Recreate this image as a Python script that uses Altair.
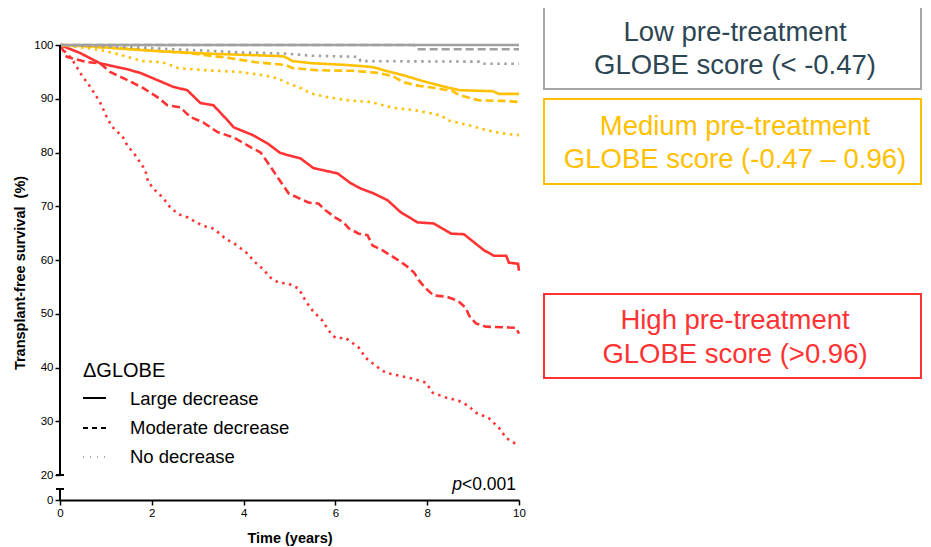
import altair as alt
import pandas as pd

FONT = "Liberation Sans"

GROUPS = ["Low", "Medium", "High"]
GROUP_COLORS = ["#A0A0A0", "#FFC000", "#FF3333"]
CHANGES = ["Large decrease", "Moderate decrease", "No decrease"]
DASHES = [[1, 0], [8, 4], [2.5, 4.5]]

# High pre-treatment GLOBE score
high_large_t = [0, 0.44, 0.87, 1.24, 1.46, 1.75, 2.03, 2.47, 2.77, 3.06, 3.34, 3.65, 3.78, 4.21, 4.52,
                4.80, 5.24, 5.52, 6.05, 6.33, 6.55, 6.83, 7.14, 7.42, 7.79, 8.14, 8.52, 8.80, 9.02,
                9.24, 9.45, 9.72, 9.78, 9.98, 10]
high_large_v = [100, 98.5, 96.6, 95.9, 95.5, 94.8, 93.8, 92.2, 91.6, 89.2, 88.8, 86.0, 84.7, 83.2, 81.7,
                79.9, 78.9, 77.1, 76.1, 74.3, 73.3, 72.4, 71.1, 68.9, 67.0, 66.8, 64.9, 64.8, 63.3,
                61.8, 60.8, 60.8, 59.5, 59.3, 58.0]
high_mod_t = [0, 0.15, 0.59, 0.87, 1.09, 1.46, 1.81, 2.12, 2.34, 2.62, 2.84, 3.12, 3.43, 3.78, 4.15,
              4.37, 4.52, 4.74, 4.98, 5.41, 5.63, 5.79, 6.00, 6.18, 6.29, 6.51, 6.70, 6.81, 7.03,
              7.21, 7.38, 7.53, 7.71, 7.82, 7.97, 8.14, 8.41, 8.67, 8.84, 8.91, 9.06, 9.28, 9.93, 10]
high_mod_v = [100, 97.8, 96.8, 96.6, 95.0, 93.5, 92.0, 90.3, 88.8, 88.4, 86.6, 85.6, 83.8, 82.8, 81.0,
              80.0, 78.2, 75.4, 72.4, 70.7, 70.5, 69.2, 67.9, 67.0, 65.9, 64.9, 64.6, 62.7, 61.8,
              60.8, 59.9, 59.0, 57.7, 56.2, 54.7, 53.4, 53.2, 52.4, 51.1, 49.7, 48.2, 47.6, 47.4, 46.3]
high_no_t = [0, 0.07, 0.26, 0.44, 0.66, 0.87, 1.05, 1.20, 1.35, 1.46, 1.64, 1.86, 1.92, 2.07, 2.25,
             2.40, 2.58, 2.79, 3.10, 3.32, 3.45, 3.60, 3.86, 4.08, 4.26, 4.41, 4.59, 4.76, 4.98,
             5.07, 5.20, 5.35, 5.50, 5.72, 5.85, 6.00, 6.22, 6.51, 6.66, 6.88, 7.10, 7.38, 7.69,
             7.97, 8.12, 8.41, 8.69, 8.89, 9.06, 9.34, 9.56, 9.72, 10]
high_no_v = [100, 99.1, 97.4, 94.8, 92.2, 89.4, 86.0, 84.1, 83.2, 81.4, 79.5, 76.7, 74.5, 73.0, 71.5,
             69.8, 68.5, 67.9, 66.4, 65.9, 65.1, 64.0, 62.7, 61.2, 59.5, 58.4, 56.7, 55.8, 55.6,
             55.2, 54.7, 52.4, 50.6, 48.7, 46.9, 45.5, 45.5, 43.7, 41.8, 40.3, 39.0, 38.5, 37.9,
             37.2, 35.3, 34.4, 33.8, 32.9, 31.6, 30.6, 28.8, 26.9, 25.4]

# Medium pre-treatment GLOBE score
med_large_t = [0, 0.61, 1.35, 2.07, 2.95, 3.54, 4.26, 4.87, 5.07, 5.50, 6.22, 6.81, 7.10, 7.47,
               7.90, 8.25, 8.69, 9.43, 9.56, 10]
med_large_v = [100, 99.8, 99.3, 98.9, 98.5, 98.3, 98.1, 97.9, 97.0, 96.6, 96.3, 95.9, 95.2, 94.4,
               93.3, 92.5, 91.6, 91.4, 90.9, 90.9]
med_mod_t = [0, 1.31, 2.79, 3.67, 4.26, 4.91, 5.07, 5.63, 6.38, 6.94, 7.25, 7.47, 7.82, 8.19, 8.56,
             8.69, 9.13, 9.65, 10]
med_mod_v = [100, 99.4, 98.5, 97.6, 96.8, 96.3, 95.7, 95.3, 95.2, 94.8, 94.2, 93.1, 92.4, 92.0, 91.4,
             90.7, 89.7, 89.6, 89.4]
med_no_t = [0, 0.61, 0.98, 1.35, 1.79, 2.23, 2.58, 3.17, 3.89, 4.41, 4.74, 4.96, 5.24, 5.46, 5.83,
            6.27, 6.77, 7.27, 7.71, 8.08, 8.30, 8.45, 8.89, 9.32, 9.61, 10]
med_no_v = [100, 99.4, 98.9, 98.1, 97.0, 96.8, 95.7, 95.3, 95.0, 94.4, 93.8, 92.9, 92.0, 91.0, 90.3,
            89.7, 89.4, 88.3, 87.9, 87.3, 86.9, 86.0, 85.1, 84.1, 83.6, 83.2]

# Low pre-treatment GLOBE score
low_large_t = [0, 10]
low_large_v = [100, 100]
low_mod_t = [0, 7.72, 7.78, 10]
low_mod_v = [100, 100, 99.2, 99.2]
low_no_t = [0, 0.8, 1.8, 2.5, 3.3, 4.0, 4.9, 5.5, 6.5, 6.55, 9.15, 9.2, 10]
low_no_v = [100, 99.8, 99.5, 99.2, 98.9, 98.6, 98.4, 98.0, 97.8, 97.0, 96.9, 96.5, 96.5]

X_TICKS = [0, 2, 4, 6, 8, 10]
Y_TICKS = [0, 20, 30, 40, 50, 60, 70, 80, 90, 100]

BOX_LINES = [
    ("Low pre-treatment", "GLOBE score (< -0.47)"),
    ("Medium pre-treatment", "GLOBE score (-0.47 \u2013 0.96)"),
    ("High pre-treatment", "GLOBE score (>0.96)"),
]
BOX_TEXT_COLORS = ["#2D4654", "#FFC000", "#FF3333"]
BOX_BORDER_COLORS = ["#A6A6A6", "#FFC000", "#FF3333"]

curves = [
    ("High", "Large decrease", high_large_t, high_large_v),
    ("High", "Moderate decrease", high_mod_t, high_mod_v),
    ("High", "No decrease", high_no_t, high_no_v),
    ("Medium", "Large decrease", med_large_t, med_large_v),
    ("Medium", "Moderate decrease", med_mod_t, med_mod_v),
    ("Medium", "No decrease", med_no_t, med_no_v),
    ("Low", "Large decrease", low_large_t, low_large_v),
    ("Low", "Moderate decrease", low_mod_t, low_mod_v),
    ("Low", "No decrease", low_no_t, low_no_v),
]
rows = []
for order, (g, c, ts, vs) in enumerate(curves):
    for t, v in zip(ts, vs):
        rows.append({"t": t, "v": v, "group": g, "change": c, "curve": f"{g}-{c}"})
df = pd.DataFrame(rows)

W, H = 459, 455
x_scale = alt.Scale(domain=[0, 10], nice=False, zero=False)
y_scale = alt.Scale(domain=[0, 20, 100], range=[H, H - 25, 0], nice=False, zero=False)

x_axis = alt.Axis(values=X_TICKS, grid=False, domainColor="black", domainWidth=2,
                  tickColor="black", tickWidth=1.5, tickSize=5, labelFont=FONT, labelFontSize=11.5,
                  labelColor="black", labelPadding=2, labelFlush=False,
                  title="Time (years)", titleFont=FONT, titleFontSize=14.5, titleFontWeight="bold",
                  titleColor="black", titleY=38, titleBaseline="middle")
y_axis = alt.Axis(values=Y_TICKS, grid=False, domain=False, tickColor="black", tickWidth=1.5,
                  tickSize=5, labelFont=FONT, labelFontSize=11.5, labelColor="black", labelPadding=2,
                  labelOverlap=False, labelFlush=False,
                  title="Transplant-free survival\u00a0 (%)", titleFont=FONT, titleFontSize=14.5,
                  titleFontWeight="bold", titleColor="black", titleX=-33)

lines = alt.Chart(df).mark_line(strokeWidth=2.6, interpolate="linear", strokeCap="butt").encode(
    x=alt.X("t:Q", scale=x_scale, axis=x_axis),
    y=alt.Y("v:Q", scale=y_scale, axis=y_axis),
    color=alt.Color("group:N", scale=alt.Scale(domain=GROUPS, range=GROUP_COLORS), legend=None),
    strokeDash=alt.StrokeDash("change:N", scale=alt.Scale(domain=CHANGES, range=DASHES), legend=None),
    detail="curve:N",
    order=alt.Order("t:Q"),
)

# broken y axis line
axis_df = pd.DataFrame({"y0": [20, 0], "y1": [100, 8.8]})
y_line = alt.Chart(axis_df).mark_rule(color="black", strokeWidth=2).encode(
    x=alt.datum(0, scale=x_scale), y=alt.Y("y0:Q", scale=y_scale), y2="y1:Q")
caps_df = pd.DataFrame({"yc": [20, 8.8]})
caps = alt.Chart(caps_df).mark_rule(color="black", strokeWidth=2).encode(
    x=alt.value(-4), x2=alt.value(4), y=alt.Y("yc:Q", scale=y_scale))

# legend inside plot
leg_title = alt.Chart(pd.DataFrame({"s": ["\u0394GLOBE"]})).mark_text(
    font=FONT, fontSize=20, align="left", baseline="alphabetic", color="black").encode(
    text="s:N", x=alt.value(23), y=alt.value(332))
leg_df = pd.DataFrame({"label": CHANGES, "ly": [353, 383, 412], "ty": [360, 389, 418]})
leg_text = alt.Chart(leg_df).mark_text(font=FONT, fontSize=18.5, align="left",
                                       baseline="alphabetic", color="black").encode(
    text="label:N", x=alt.value(70), y=alt.Y("ty:Q", scale=None))
leg_solid = alt.Chart(leg_df.iloc[[0]]).mark_rule(color="black", strokeWidth=2).encode(
    x=alt.value(23), x2=alt.value(46), y=alt.Y("ly:Q", scale=None))
leg_dash = alt.Chart(leg_df.iloc[[1]]).mark_rule(color="black", strokeWidth=2, strokeDash=[5, 4]).encode(
    x=alt.value(23), x2=alt.value(46), y=alt.Y("ly:Q", scale=None))
leg_dot = alt.Chart(leg_df.iloc[[2]]).mark_rule(color="#555555", strokeWidth=1, strokeDash=[1, 6]).encode(
    x=alt.value(23), x2=alt.value(46), y=alt.Y("ly:Q", scale=None))

p_italic = alt.Chart(pd.DataFrame({"s": ["p"]})).mark_text(
    font=FONT, fontSize=17.5, fontStyle="italic", align="right", baseline="alphabetic",
    color="black").encode(text="s:N", x=alt.value(402), y=alt.value(445))
p_rest = alt.Chart(pd.DataFrame({"s": ["<0.001"]})).mark_text(
    font=FONT, fontSize=17.5, align="right", baseline="alphabetic", color="black").encode(
    text="s:N", x=alt.value(456), y=alt.value(445))

# boxes on the right
box_df = pd.DataFrame({
    "group": GROUPS,
    "top": [-40, 54, 249],
    "bottom": [44, 139, 333],
})
boxes = alt.Chart(box_df).mark_rect(fillOpacity=0, strokeWidth=2).encode(
    x=alt.value(484), x2=alt.value(861),
    y=alt.Y("top:Q", scale=None), y2="bottom:Q",
    stroke=alt.Stroke("group:N", scale=alt.Scale(domain=GROUPS, range=BOX_BORDER_COLORS), legend=None),
)
txt_rows = []
base_y = [(-4, 29), (90, 123), (284, 318)]
for g, (l1, l2), (b1, b2) in zip(GROUPS, BOX_LINES, base_y):
    txt_rows.append({"group": g, "s": l1, "ty": b1})
    txt_rows.append({"group": g, "s": l2, "ty": b2})
box_text = alt.Chart(pd.DataFrame(txt_rows)).mark_text(
    font=FONT, fontSize=27.5, align="center", baseline="alphabetic").encode(
    text="s:N", x=alt.value(675), y=alt.Y("ty:Q", scale=None),
    color=alt.Color("group:N", scale=alt.Scale(domain=GROUPS, range=BOX_TEXT_COLORS), legend=None),
)

chart = alt.layer(
    lines, y_line, caps, leg_title, leg_text, leg_solid, leg_dash, leg_dot, p_italic, p_rest,
    boxes, box_text
).resolve_scale(color="independent").properties(
    width=W, height=H,
    autosize=alt.AutoSizeParams(type="none"),
    padding={"left": 52, "top": 37, "right": 403, "bottom": 46},
    background="white",
).configure_view(stroke=None)

chart.save("out.html", embed_options={"renderer": "svg", "actions": False})
